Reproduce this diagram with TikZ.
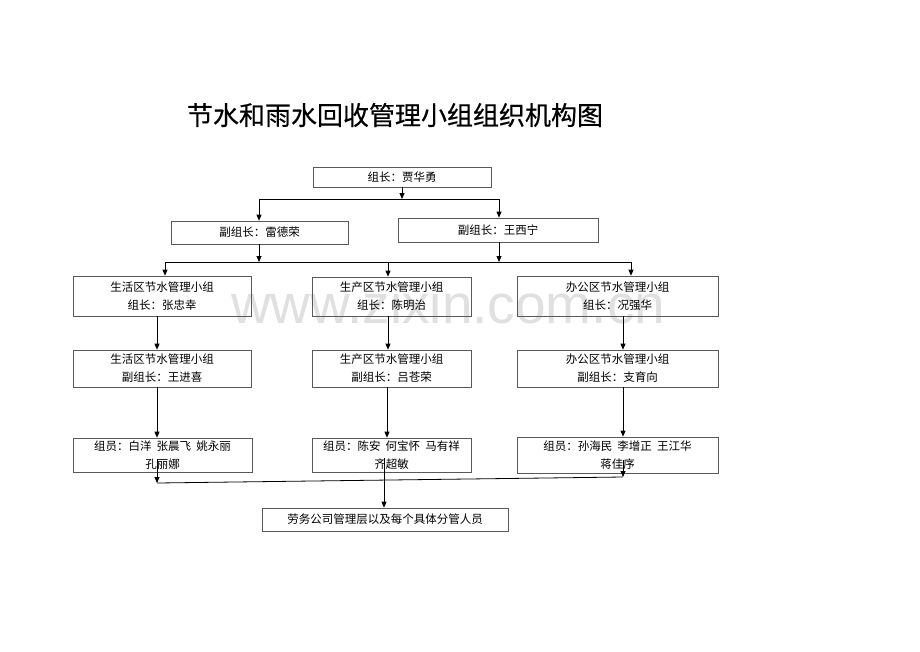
\documentclass[tikz,border=0pt]{standalone}
\usepackage{fontspec}
\setmainfont{Noto Sans CJK SC}
\newfontfamily\wmfont{Liberation Sans}
\newfontfamily\titlefont[FakeBold=0.5]{Noto Sans CJK SC}
\usetikzlibrary{arrows.meta}
\newcommand{\gap}{\hspace{0.45em}}
\begin{document}
\begin{tikzpicture}[x=1pt,y=-1pt,
  box/.style={draw=black!65, line width=0.7pt, inner sep=0pt, align=center,
    font=\fontsize{11.5}{18}\selectfont},
  conn/.style={line width=0.8pt, black},
  arr/.style={conn, -{Triangle[length=6pt,width=5pt]}}]
\useasboundingbox (0,0) rectangle (920,651);
\fill[white] (0,0) rectangle (920,651);
% watermark
\node[anchor=base west, inner sep=0pt, text=black!12, font=\wmfont\fontsize{55}{55}\selectfont] (wm) at (231,323) {www.zixin.com.cn};
% title
\node[inner sep=0pt, font=\titlefont\fontsize{26}{30}\selectfont] (title) at (395,115) {节水和雨水回收管理小组组织机构图};
% boxes
\node[box, minimum width=178pt, minimum height=20pt] (top) at (402,177) {组长：贾华勇};
\node[box, minimum width=177pt, minimum height=23pt] (depL) at (259.5,232.5) {副组长：雷德荣};
\node[box, minimum width=200pt, minimum height=24pt] (depR) at (498,230) {副组长：王西宁};
\node[box, minimum width=178pt, minimum height=40pt] (b1) at (162,296) {生活区节水管理小组\\组长：张忠幸};
\node[box, minimum width=159pt, minimum height=39pt] (b2) at (391.5,296.5) {生产区节水管理小组\\组长：陈明治};
\node[box, minimum width=201pt, minimum height=40pt] (b3) at (617.5,296) {办公区节水管理小组\\组长：况强华};
\node[box, minimum width=178pt, minimum height=37pt] (b1b) at (162,368.5) {生活区节水管理小组\\副组长：王进喜};
\node[box, minimum width=159pt, minimum height=37pt] (b2b) at (391.5,368.5) {生产区节水管理小组\\副组长：吕苍荣};
\node[box, minimum width=201pt, minimum height=37pt] (b3b) at (617.5,368.5) {办公区节水管理小组\\副组长：支育向};
\node[box, minimum width=179pt, minimum height=34pt] (b1c) at (162.5,455) {组员：白洋\gap 张晨飞\gap 姚永丽\\孔丽娜};
\node[box, minimum width=159pt, minimum height=34pt] (b2c) at (391.5,455) {组员：陈安\gap 何宝怀\gap 马有祥\\齐超敏};
\node[box, minimum width=201pt, minimum height=36pt] (b3c) at (617.5,455) {组员：孙海民\gap 李增正\gap 王江华\\蒋佳序};
\node[box, minimum width=246pt, minimum height=23pt] (fin) at (385,519.5) {劳务公司管理层以及每个具体分管人员};
% junction coordinates
\coordinate (j1) at (402,199);
\coordinate (j1L) at (259,199);
\coordinate (j1R) at (499,199);
\coordinate (j2L) at (259,262);
\coordinate (j2R) at (499,262);
\coordinate (j2a) at (165,262);
\coordinate (j2c) at (631,262);
\coordinate (j3a) at (157,483);
\coordinate (j3c) at (623,477);
% connectors
\draw[arr] (top.south) -- (j1);
\draw[conn] (j1L) -- (j1R);
\draw[arr] (j1L) -- (j1L |- depL.north);
\draw[arr] (j1R) -- (j1R |- depR.north);
\draw[arr] (j2L |- depL.south) -- (j2L);
\draw[arr] (j2R |- depR.south) -- (j2R);
\draw[conn] (j2a) -- (j2c);
\draw[arr] (j2a) -- (j2a |- b1.north);
\draw[arr] (388,262) -- (388,0 |- b2.north);
\draw[arr] (j2c) -- (j2c |- b3.north);
\draw[arr] (157,0 |- b1.south) -- (157,0 |- b1b.north);
\draw[arr] (388,0 |- b2.south) -- (388,0 |- b2b.north);
\draw[arr] (623,0 |- b3.south) -- (623,0 |- b3b.north);
\draw[arr] (157,0 |- b1b.south) -- (157,0 |- b1c.north);
\draw[arr] (387,0 |- b2b.south) -- (387,0 |- b2c.north);
\draw[arr] (623,0 |- b3b.south) -- (623,0 |- b3c.north);
\draw[arr] (157,459) -- (j3a);
\draw[arr] (623,460) -- (j3c);
\draw[conn] (j3a) -- (j3c);
\draw[arr] (384,458) -- (384,0 |- fin.north);
\end{tikzpicture}
\end{document}
